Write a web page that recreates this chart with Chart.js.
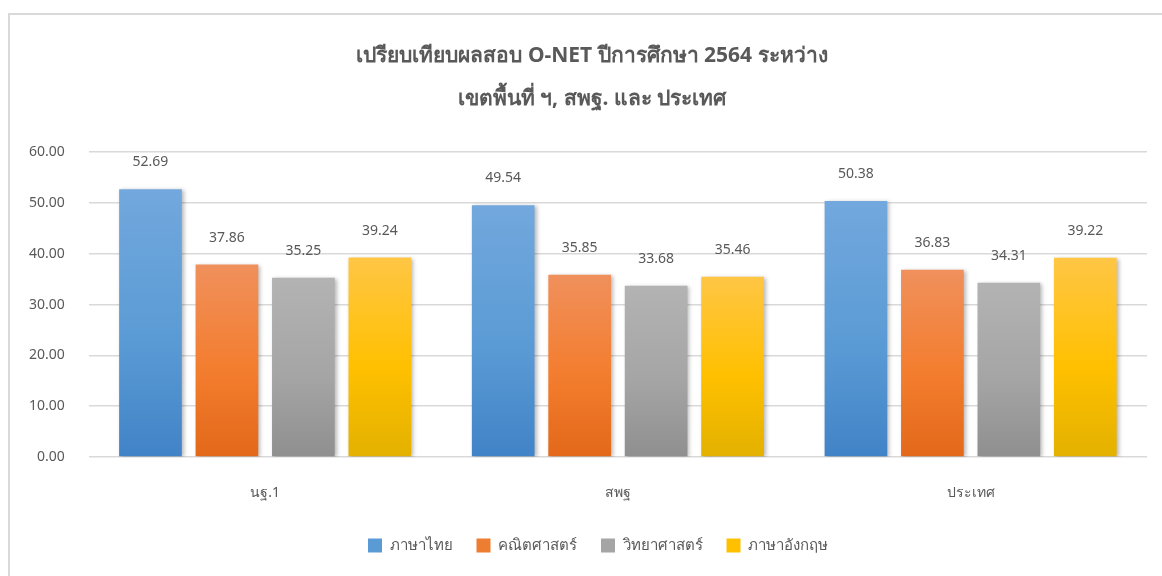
<!DOCTYPE html>
<html>
<head>
<meta charset="utf-8">
<script src="https://cdn.jsdelivr.net/npm/chart.js@4"></script>
<style>
  html, body { margin: 0; padding: 0; background: #fff; }
  #frame {
    position: absolute; left: 8px; top: 13px; width: 1160px; height: 570px;
    border-left: 2px solid #d9d9d9; border-top: 2px solid #d9d9d9;
  }
  #chartBox { position: absolute; left: 0; top: 0; width: 1162px; height: 576px; }
</style>
</head>
<body>
<div id="frame"></div>
<div id="chartBox"><canvas id="canvasScores" width="1162" height="576"></canvas></div>
<script>
"use strict";

// data
var regions = ['นฐ.1', 'สพฐ', 'ประเทศ'];
var subjects = ['ภาษาไทย', 'คณิตศาสตร์', 'วิทยาศาสตร์', 'ภาษาอังกฤษ'];
var thaiScores = [52.69, 49.54, 50.38];
var mathScores = [37.86, 35.85, 36.83];
var scienceScores = [35.25, 33.68, 34.31];
var englishScores = [39.24, 35.46, 39.22];
var yTicks = [0, 10, 20, 30, 40, 50, 60];
var chartTitle = ['เปรียบเทียบผลสอบ O-NET ปีการศึกษา 2564 ระหว่าง', 'เขตพื้นที่ ฯ, สพฐ. และ ประเทศ'];

var fontFamily = 'Tahoma, "Noto Sans", "DejaVu Sans", sans-serif';
var textColor = '#595959';

// top / middle / bottom colours of each bar gradient
var barGradients = [
	['#72a8dd', '#5b9bd5', '#4183c7'],
	['#f0905c', '#f37d2e', '#e3681a'],
	['#b3b3b3', '#a5a5a5', '#8f8f8f'],
	['#ffc645', '#ffc000', '#e3b100']
];
var legendColors = ['#5b9bd5', '#ed7d31', '#a5a5a5', '#ffc000'];

function BarGradient(index) {
	return function (context) {
		var chart = context.chart;
		if (!chart.chartArea || !chart.scales.y || context.raw === undefined) {
			return legendColors[index];
		}
		var y = chart.scales.y;
		var top = y.getPixelForValue(context.raw);
		var base = y.getPixelForValue(0);
		var g = chart.ctx.createLinearGradient(0, top, 0, base);
		g.addColorStop(0, barGradients[index][0]);
		g.addColorStop(0.55, barGradients[index][1]);
		g.addColorStop(1, barGradients[index][2]);
		return g;
	};
}

// value labels above each bar
var valueLabels = {
	id: 'valueLabels',
	afterDatasetsDraw: function (chart) {
		var ctx = chart.ctx;
		ctx.save();
		ctx.shadowColor = 'transparent';
		ctx.font = '14px ' + fontFamily;
		ctx.fillStyle = textColor;
		ctx.textAlign = 'center';
		ctx.textBaseline = 'middle';
		chart.data.datasets.forEach(function (ds, i) {
			var meta = chart.getDatasetMeta(i);
			meta.data.forEach(function (bar, j) {
				ctx.fillText(ds.data[j].toFixed(2), bar.x, bar.y - 27);
			});
		});
		ctx.restore();
	}
};

// soft shadow behind bars
var barShadow = {
	id: 'barShadow',
	beforeDatasetsDraw: function (chart) {
		var ctx = chart.ctx;
		ctx.save();
		ctx.shadowColor = 'rgba(0,0,0,0.28)';
		ctx.shadowBlur = 4;
		ctx.shadowOffsetX = 2;
		ctx.shadowOffsetY = 1;
	},
	afterDatasetsDraw: function (chart) {
		chart.ctx.restore();
	}
};

// the title and legend sit a bit right of centre in the original
var nudgeBoxes = {
	id: 'nudgeBoxes',
	afterLayout: function (chart) {
		if (chart.titleBlock) {
			chart.titleBlock.left += 16;
			chart.titleBlock.right += 16;
		}
		if (chart.legend) {
			chart.legend.left += 22;
			chart.legend.right += 22;
		}
	}
};

var seriesData = [thaiScores, mathScores, scienceScores, englishScores];
var datasets = subjects.map(function (name, i) {
	return {
		label: name,
		data: seriesData[i],
		backgroundColor: BarGradient(i),
		borderWidth: 0,
		barPercentage: 0.82,
		categoryPercentage: 0.867
	};
});

const context = document.getElementById('canvasScores');
const myChart = new Chart(context, {
	type: 'bar',
	data: { labels: regions, datasets: datasets },
	plugins: [barShadow, valueLabels, nudgeBoxes],
	options: {
		responsive: false,
		animation: false,
		layout: { padding: { top: 14, left: 5, right: 15, bottom: 13 } },
		plugins: {
			title: {
				display: true,
				text: chartTitle,
				color: textColor,
				font: { family: fontFamily, size: 21, weight: 'bold', lineHeight: 2.05 },
				padding: { top: 20, bottom: 32 }
			},
			legend: {
				position: 'bottom',
				labels: {
					color: textColor,
					font: { family: fontFamily, size: 15 },
					boxWidth: 14,
					boxHeight: 14,
					padding: 24,
					generateLabels: function (chart) {
						return chart.data.datasets.map(function (ds, i) {
							return {
								text: ds.label,
								fillStyle: legendColors[i],
								strokeStyle: legendColors[i],
								lineWidth: 0,
								fontColor: textColor,
								datasetIndex: i
							};
						});
					}
				}
			},
			tooltip: { enabled: false }
		},
		scales: {
			x: {
				grid: { display: false },
				border: { display: false },
				ticks: { color: textColor, font: { family: fontFamily, size: 14 }, padding: 20 },
				afterFit: function (scale) { scale.height = 57; }
			},
			y: {
				min: 0,
				max: 60,
				afterBuildTicks: function (scale) {
					scale.ticks = yTicks.map(function (v) { return { value: v }; });
				},
				grid: { color: '#d9d9d9', lineWidth: 1.5, drawTicks: false },
				border: { display: false },
				ticks: {
					color: textColor,
					font: { family: fontFamily, size: 14 },
					padding: 24,
					callback: function (value) { return Number(value).toFixed(2); }
				}
			}
		}
	}
});
</script>
</body>
</html>
